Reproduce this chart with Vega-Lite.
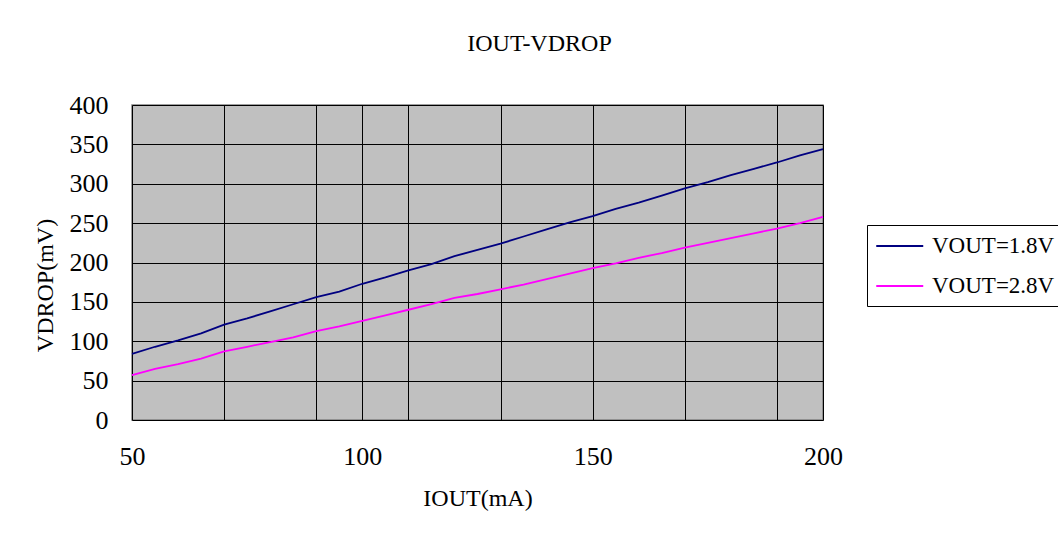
{
  "$schema": "https://vega.github.io/schema/vega-lite/v6.json",
  "width": 691,
  "height": 315,
  "autosize": {"type": "none"},
  "padding": {"left": 132, "top": 105, "right": 235, "bottom": 116},
  "background": "white",
  "config": {
    "font": "Liberation Serif",
    "view": {"fill": "#C0C0C0", "stroke": "#808080", "strokeWidth": 1.5},
    "axis": {"labelColor": "black", "titleColor": "black", "titleFontWeight": "normal", "domain": false, "ticks": false}
  },
  "title": {
    "text": "IOUT-VDROP",
    "fontSize": 24,
    "fontWeight": "normal",
    "color": "black",
    "anchor": "middle",
    "frame": "group",
    "dx": 62,
    "baseline": "alphabetic",
    "offset": 17
  },
  "data": {
    "values": [
      {"I": 50, "V": 84, "s": "VOUT=1.8V"}, {"I": 55, "V": 93, "s": "VOUT=1.8V"}, {"I": 60, "V": 101, "s": "VOUT=1.8V"},
      {"I": 65, "V": 110, "s": "VOUT=1.8V"}, {"I": 70, "V": 121, "s": "VOUT=1.8V"}, {"I": 75, "V": 129, "s": "VOUT=1.8V"},
      {"I": 80, "V": 138, "s": "VOUT=1.8V"}, {"I": 85, "V": 147, "s": "VOUT=1.8V"}, {"I": 90, "V": 156, "s": "VOUT=1.8V"},
      {"I": 95, "V": 163, "s": "VOUT=1.8V"}, {"I": 100, "V": 173, "s": "VOUT=1.8V"}, {"I": 105, "V": 181, "s": "VOUT=1.8V"},
      {"I": 110, "V": 190, "s": "VOUT=1.8V"}, {"I": 115, "V": 198, "s": "VOUT=1.8V"}, {"I": 120, "V": 208, "s": "VOUT=1.8V"},
      {"I": 125, "V": 216, "s": "VOUT=1.8V"}, {"I": 130, "V": 224, "s": "VOUT=1.8V"}, {"I": 135, "V": 233, "s": "VOUT=1.8V"},
      {"I": 140, "V": 242, "s": "VOUT=1.8V"}, {"I": 145, "V": 251, "s": "VOUT=1.8V"}, {"I": 150, "V": 259, "s": "VOUT=1.8V"},
      {"I": 155, "V": 268, "s": "VOUT=1.8V"}, {"I": 160, "V": 276, "s": "VOUT=1.8V"}, {"I": 165, "V": 285, "s": "VOUT=1.8V"},
      {"I": 170, "V": 294, "s": "VOUT=1.8V"}, {"I": 175, "V": 302, "s": "VOUT=1.8V"}, {"I": 180, "V": 311, "s": "VOUT=1.8V"},
      {"I": 185, "V": 319, "s": "VOUT=1.8V"}, {"I": 190, "V": 327, "s": "VOUT=1.8V"}, {"I": 195, "V": 336, "s": "VOUT=1.8V"},
      {"I": 200, "V": 344, "s": "VOUT=1.8V"},
      {"I": 50, "V": 57, "s": "VOUT=2.8V"}, {"I": 55, "V": 65, "s": "VOUT=2.8V"}, {"I": 60, "V": 71, "s": "VOUT=2.8V"},
      {"I": 65, "V": 78, "s": "VOUT=2.8V"}, {"I": 70, "V": 87, "s": "VOUT=2.8V"}, {"I": 75, "V": 93, "s": "VOUT=2.8V"},
      {"I": 80, "V": 99, "s": "VOUT=2.8V"}, {"I": 85, "V": 105, "s": "VOUT=2.8V"}, {"I": 90, "V": 113, "s": "VOUT=2.8V"},
      {"I": 95, "V": 119, "s": "VOUT=2.8V"}, {"I": 100, "V": 126, "s": "VOUT=2.8V"}, {"I": 105, "V": 133, "s": "VOUT=2.8V"},
      {"I": 110, "V": 140, "s": "VOUT=2.8V"}, {"I": 115, "V": 147, "s": "VOUT=2.8V"}, {"I": 120, "V": 155, "s": "VOUT=2.8V"},
      {"I": 125, "V": 160, "s": "VOUT=2.8V"}, {"I": 130, "V": 166, "s": "VOUT=2.8V"}, {"I": 135, "V": 172, "s": "VOUT=2.8V"},
      {"I": 140, "V": 179, "s": "VOUT=2.8V"}, {"I": 145, "V": 186, "s": "VOUT=2.8V"}, {"I": 150, "V": 193, "s": "VOUT=2.8V"},
      {"I": 155, "V": 199, "s": "VOUT=2.8V"}, {"I": 160, "V": 206, "s": "VOUT=2.8V"}, {"I": 165, "V": 212, "s": "VOUT=2.8V"},
      {"I": 170, "V": 219, "s": "VOUT=2.8V"}, {"I": 175, "V": 225, "s": "VOUT=2.8V"}, {"I": 180, "V": 231, "s": "VOUT=2.8V"},
      {"I": 185, "V": 237, "s": "VOUT=2.8V"}, {"I": 190, "V": 243, "s": "VOUT=2.8V"}, {"I": 195, "V": 250, "s": "VOUT=2.8V"},
      {"I": 200, "V": 258, "s": "VOUT=2.8V"}
    ]
  },
  "mark": {"type": "line", "strokeWidth": 1.8},
  "encoding": {
    "x": {
      "field": "I",
      "type": "quantitative",
      "scale": {"domain": [50, 200], "nice": false, "zero": false},
      "axis": {
        "title": "IOUT(mA)",
        "values": [50, 70, 90, 100, 110, 130, 150, 170, 190, 200],
        "labelExpr": "datum.value % 50 == 0 ? datum.label : ''",
        "grid": true,
        "gridColor": "black",
        "gridOpacity": 1,
        "gridWidth": 1,
        "labelFontSize": 26,
        "labelPadding": 23,
        "labelFlush": false,
        "titleFontSize": 24,
        "titleBaseline": "middle",
        "titleY": 78
      }
    },
    "y": {
      "field": "V",
      "type": "quantitative",
      "scale": {"domain": [0, 400], "nice": false},
      "axis": {
        "title": "VDROP(mV)",
        "values": [0, 50, 100, 150, 200, 250, 300, 350, 400],
        "grid": true,
        "gridColor": "black",
        "gridOpacity": 1,
        "gridWidth": 1,
        "labelFontSize": 26,
        "labelPadding": 24,
        "labelFlush": false,
        "titleFontSize": 24,
        "titleBaseline": "middle",
        "titleAlign": "center",
        "titleX": -87,
        "titleY": 180
      }
    },
    "color": {
      "field": "s",
      "type": "nominal",
      "scale": {"domain": ["VOUT=1.8V", "VOUT=2.8V"], "range": ["#000080", "#FF00FF"]},
      "legend": {
        "title": null,
        "orient": "none",
        "legendX": 735,
        "legendY": 120,
        "strokeColor": "black",
        "fillColor": "white",
        "padding": 8,
        "symbolType": "M-1,0H3",
        "symbolSize": 552,
        "symbolStrokeWidth": 1.8,
        "labelFontSize": 23,
        "labelColor": "black",
        "labelOffset": 31,
        "rowPadding": 15,
        "labelLimit": 300
      }
    }
  }
}
